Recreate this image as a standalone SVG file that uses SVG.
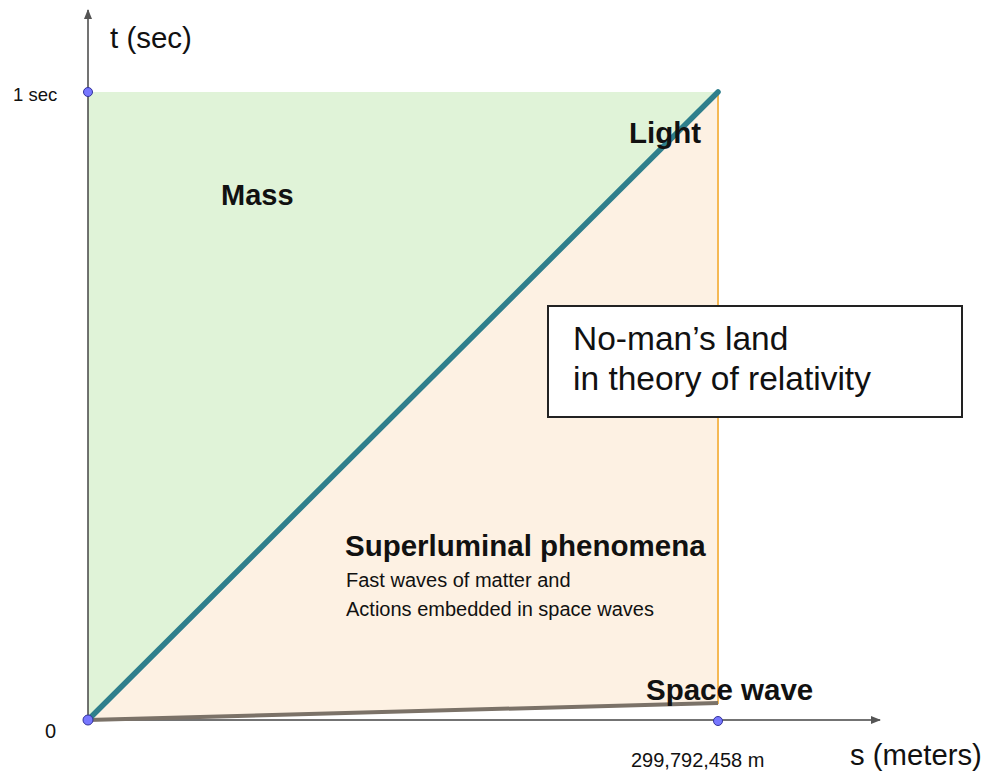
<svg xmlns="http://www.w3.org/2000/svg" width="986" height="772" viewBox="0 0 986 772">
<style>
text{font-family:"Liberation Sans",Arial,sans-serif;fill:#111}
.b{font-weight:bold}
.axis{stroke:#444;stroke-width:1.5;fill:none}
.pt{fill:#7777ff;stroke:#33339a;stroke-width:1}
</style>
<defs>
<marker id="ah" viewBox="0 0 10 10" refX="9" refY="5" markerWidth="14" markerHeight="10" markerUnits="userSpaceOnUse" orient="auto">
<path d="M0,1 L10,5 L0,9 Z" fill="#555"/>
</marker>
</defs>
<rect width="986" height="772" fill="#fff"/>
<g id="regions">
<polygon id="mass-region" points="88,92 718,92 88,720" fill="#e0f3d8"/>
<polygon id="superluminal-region" points="88,720 718,92 718,703" fill="#fdf1e3"/>
</g>
<g id="connectors">
<line class="axis" x1="88" y1="722" x2="88" y2="10" marker-end="url(#ah)"/>
<line class="axis" x1="88" y1="720" x2="880" y2="720" marker-end="url(#ah)"/>
<line x1="718" y1="92" x2="718" y2="704" stroke="#f5b955" stroke-width="2"/>
<line x1="88" y1="720" x2="718" y2="703" stroke="#7b7268" stroke-width="4"/>
<line x1="88" y1="720" x2="718" y2="92" stroke="#2f7f8c" stroke-width="5.5" stroke-linecap="round"/>
</g>
<g id="points">
<circle class="pt" cx="88" cy="92" r="4.5"/>
<circle class="pt" cx="88" cy="720" r="5" fill="#4444ee"/>
<circle class="pt" cx="718" cy="721" r="4.5"/>
</g>
<g id="axis-labels">
<text x="110" y="48" font-size="29.5">t (sec)</text>
<text x="13" y="101" font-size="18.5">1 sec</text>
<text x="45" y="738" font-size="20">0</text>
<text x="631" y="767" font-size="20">299,792,458 m</text>
<text x="850" y="765" font-size="29.3">s (meters)</text>
</g>
<g id="mass"><text class="b" x="221" y="205" font-size="29">Mass</text></g>
<g id="light"><text class="b" x="629" y="143" font-size="29.5">Light</text></g>
<g id="superluminal">
<text class="b" x="345" y="556" font-size="29.5">Superluminal phenomena</text>
<text x="346" y="587" font-size="20">Fast waves of matter and</text>
<text x="346" y="616" font-size="20">Actions embedded in space waves</text>
</g>
<g id="space-wave"><text class="b" x="646" y="700" font-size="29.5">Space wave</text></g>
<g id="no-mans-land">
<rect x="548" y="306" width="414" height="111" fill="#fff" stroke="#222" stroke-width="2"/>
<text x="573" y="350" font-size="33.5">No-man’s land</text>
<text x="573" y="390" font-size="33.5">in theory of relativity</text>
</g>
</svg>
